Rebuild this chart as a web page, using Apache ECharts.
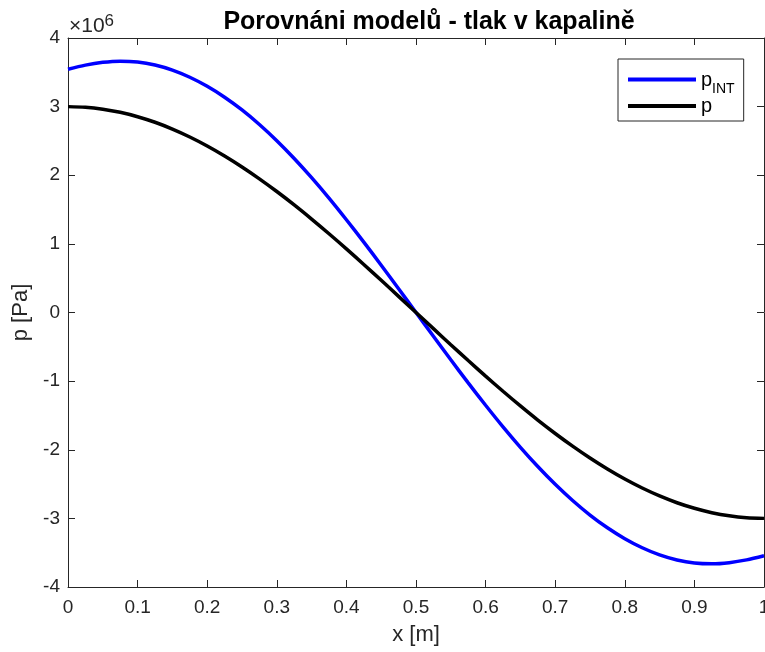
<!DOCTYPE html>
<html>
<head>
<meta charset="utf-8">
<script src="https://cdn.jsdelivr.net/npm/echarts@6/dist/echarts.min.js"></script>
<style>html,body{margin:0;padding:0;background:#fff}#c{width:765px;height:652px}</style>
</head>
<body>
<div id="c"></div>
<script>
// x positions [m]
var xValues = [0,0.025,0.05,0.075,0.1,0.125,0.15,0.175,0.2,0.225,0.25,0.275,0.3,0.325,0.35,0.375,0.4,0.425,0.45,0.475,0.5,
  0.525,0.55,0.575,0.6,0.625,0.65,0.675,0.7,0.725,0.75,0.775,0.8,0.825,0.85,0.875,0.9,0.925,0.95,0.975,1];
// p_INT [x10^6 Pa]
var pIntValues = [3.545,3.605,3.645,3.662,3.650,3.606,3.532,3.428,3.296,3.137,2.951,2.739,2.503,2.244,1.964,1.666,1.351,1.025,0.689,0.346,0,
  -0.346,-0.689,-1.025,-1.351,-1.666,-1.964,-2.244,-2.503,-2.739,-2.951,-3.137,-3.296,-3.428,-3.532,-3.606,-3.650,-3.662,-3.645,-3.605,-3.545];
// p [x10^6 Pa]
var pValues = [3.000,2.991,2.963,2.917,2.853,2.772,2.673,2.558,2.427,2.281,2.121,1.948,1.763,1.568,1.362,1.148,0.927,0.700,0.469,0.235,0,
  -0.235,-0.469,-0.700,-0.927,-1.148,-1.362,-1.568,-1.763,-1.948,-2.121,-2.281,-2.427,-2.558,-2.673,-2.772,-2.853,-2.917,-2.963,-2.991,-3.000];
var xTicks = [0,0.1,0.2,0.3,0.4,0.5,0.6,0.7,0.8,0.9,1];
var yTicks = [-4,-3,-2,-1,0,1,2,3,4];
var titleText = 'Porovnáni modelů - tlak v kapalině';
var xName = 'x [m]';
var yName = 'p [Pa]';

function pairs(xs, ys){ return xs.map(function(x,i){ return [x, ys[i]]; }); }

var axisColor = '#262626';
var font = 'Arial, "Liberation Sans", Helvetica, sans-serif';
var chart = echarts.init(document.getElementById('c'), null, {renderer:'canvas'});
var baseAxis = {
  axisLine:{show:true, onZero:false, lineStyle:{color:axisColor, width:1}},
  axisTick:{show:true, inside:true, length:7, lineStyle:{color:axisColor}},
  splitLine:{show:false}
};
chart.setOption({
  animation:false,
  backgroundColor:'#fff',
  textStyle:{fontFamily:font},
  title:{
    text:titleText, left:424, top:5, textAlign:'center',
    textStyle:{fontFamily:font, fontSize:25, fontWeight:'bold', color:'#000'}
  },
  grid:{left:68, top:38, right:1, bottom:65, containLabel:false, outerBoundsMode:'none'},
  legend:{
    orient:'vertical', left:618, top:59,
    backgroundColor:'#fff', borderColor:axisColor, borderWidth:1,
    padding:[10.5, 9, 5, 10], itemGap:-0.5,
    itemWidth:68, itemHeight:4,
    icon:'rect',
    data:[{name:'pINT'},{name:'p'}],
    formatter:function(n){ return n === 'pINT' ? '{a|p}{b|INT}' : '{c|p}'; },
    textStyle:{
      fontFamily:font, color:'#000',
      rich:{
        a:{fontSize:20, fontFamily:font, color:'#000', lineHeight:20, verticalAlign:'top', padding:[0.5,0,0,0]},
        b:{fontSize:14, fontFamily:font, color:'#000', lineHeight:14, verticalAlign:'top', padding:[13,0,0,0]},
        c:{fontSize:20, fontFamily:font, color:'#000', lineHeight:20}
      }
    }
  },
  xAxis:[
    Object.assign({}, baseAxis, {
      type:'value', min:0, max:1, interval:0.1, position:'bottom',
      name:xName, nameLocation:'middle', nameGap:37,
      nameTextStyle:{fontFamily:font, fontSize:22, color:axisColor},
      axisLabel:{fontFamily:font, fontSize:19, color:axisColor, margin:11,
        formatter:function(v){ var r = Math.round(v*10)/10; return String(r); }}
    }),
    Object.assign({}, baseAxis, {
      type:'value', min:0, max:1, interval:0.1, position:'top',
      axisLabel:{show:false}
    })
  ],
  yAxis:[
    Object.assign({}, baseAxis, {
      type:'value', min:-4, max:4, interval:1, position:'left',
      name:yName, nameLocation:'middle', nameGap:30, nameRotate:90,
      nameTextStyle:{fontFamily:font, fontSize:22, color:axisColor},
      axisLabel:{fontFamily:font, fontSize:19, color:axisColor, margin:8}
    }),
    Object.assign({}, baseAxis, {
      type:'value', min:-4, max:4, interval:1, position:'right',
      axisLabel:{show:false}
    })
  ],
  graphic:[{
    type:'text', left:69, top:13,
    style:{
      text:'{m|×10}{s|6}', fontFamily:font,
      rich:{
        m:{fontSize:21, fontFamily:font, fill:axisColor, lineHeight:26},
        s:{fontSize:17, fontFamily:font, fill:axisColor, verticalAlign:'top', lineHeight:26, padding:[0,0,9,0]}
      }
    }
  }],
  series:[
    {name:'pINT', type:'line', xAxisIndex:0, yAxisIndex:0, data:pairs(xValues,pIntValues),
     showSymbol:false, smooth:0.3, lineStyle:{color:'#0000ff', width:3.5}, itemStyle:{color:'#0000ff'}},
    {name:'p', type:'line', xAxisIndex:0, yAxisIndex:0, data:pairs(xValues,pValues),
     showSymbol:false, smooth:0.3, lineStyle:{color:'#000000', width:3.5}, itemStyle:{color:'#000000'}}
  ]
});
</script>
</body>
</html>
